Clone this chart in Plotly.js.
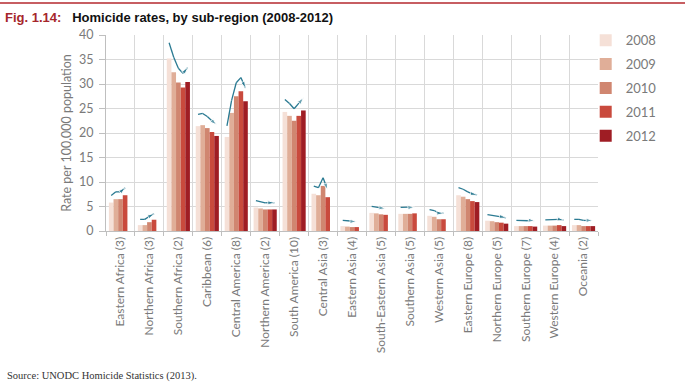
<!DOCTYPE html>
<html>
<head>
<meta charset="utf-8">
<script src="https://cdn.plot.ly/plotly-3.0.1.min.js"></script>
<style>html,body{margin:0;padding:0;background:#fff;}#chart{width:685px;height:391px;}</style>
</head>
<body>
<div id="chart"></div>
<script>
const categories = ["Eastern Africa (3)", "Northern Africa (3)", "Southern Africa (2)", "Caribbean (6)", "Central America (8)", "Northern America (2)", "South America (10)", "Central Asia (3)", "Eastern Asia (4)", "South-Eastern Asia (5)", "Southern Asia (5)", "Western Asia (5)", "Eastern Europe (8)", "Northern Europe (5)", "Southern Europe (7)", "Western Europe (4)", "Oceania (2)"];
const years = ["2008", "2009", "2010", "2011", "2012"];
const y2008 = [5.8, 1.2, 35.2, 21.4, 19.2, 4.8, 24.3, 7.6, 1.0, 3.7, 3.5, 3.1, 7.3, 2.1, 1.0, 1.1, 1.2];
const y2009 = [6.5, 1.2, 32.4, 21.6, 24.1, 4.6, 23.5, 7.3, 0.9, 3.6, 3.5, 2.9, 7.0, 2.0, 1.0, 1.1, 1.2];
const y2010 = [6.5, 1.8, 30.3, 21.0, 27.5, 4.4, 22.5, 9.2, 0.8, 3.4, 3.5, 2.4, 6.5, 1.8, 1.0, 1.1, 1.0];
const y2011 = [7.3, 2.3, 29.3, 20.2, 28.5, 4.4, 23.5, 6.9, 0.8, 3.3, 3.6, 2.4, 6.1, 1.7, 1.0, 1.2, 1.0];
const y2012 = [null, null, 30.4, 19.4, 26.5, 4.4, 24.6, null, null, null, null, null, 5.9, 1.5, 0.9, 1.0, 1.0];
const series = [y2008, y2009, y2010, y2011, y2012];
const colors = ["#f5e0d7", "#e0ae98", "#d08670", "#c94a3d", "#9f1d24"];

const traces = series.map((vals, j) => ({
  type: "bar", name: years[j], x: categories, y: vals,
  marker: {color: colors[j]}, legendgroup: "g" + j, hoverinfo: "skip"
}));

// trend arrows drawn above each group, following the bar values
const groupW = 0.8, n = years.length, bw = groupW / n;
const ax = [], ay = [], asz = [];
categories.forEach((c, i) => {
  const pts = [];
  series.forEach((vals, j) => {
    if (vals[i] !== null) pts.push([i - groupW / 2 + bw * (j + 0.5), vals[i] + 1.1 + 0.06 * vals[i]]);
  });
  pts.forEach((p, k) => { ax.push(p[0]); ay.push(p[1]); asz.push(k === pts.length - 1 ? 7 : 0); });
  ax.push(null); ay.push(null); asz.push(0);
});
traces.push({
  type: "scatter", mode: "lines+markers", x: ax, y: ay, xaxis: "x2",
  line: {color: "#2a7a92", width: 1.3}, connectgaps: false,
  marker: {symbol: "arrow", size: asz, angleref: "previous", color: "#2a7a92"},
  showlegend: false, hoverinfo: "skip"
});

const gray = "#7a7a7a";
const layout = {
  width: 685, height: 391,
  margin: {l: 106, r: 87, t: 35, b: 160},
  paper_bgcolor: "#fff", plot_bgcolor: "#fff",
  font: {family: "Lato, 'Open Sans', sans-serif", color: gray, size: 12},
  title: {
    text: "<span style='color:#a6262b'>Fig. 1.14:</span>&nbsp;&nbsp; Homicide rates, by sub-region (2008-2012)",
    font: {family: "'Liberation Sans', Arial, sans-serif", size: 13, color: "#111", weight: "bold"},
    x: 5 / 685, xref: "container", xanchor: "left", y: 1 - 17 / 391, yref: "container", yanchor: "middle"
  },
  barmode: "group", bargap: 0.2, bargroupgap: 0,
  xaxis: {
    type: "category", tickson: "boundaries", ticks: "outside", ticklen: 4, tickcolor: "#bfbfbf",
    showgrid: true, gridcolor: "#d9d9d9", gridwidth: 1,
    showline: true, linecolor: "#bfbfbf", tickangle: -90,
    tickfont: {size: 12, color: gray}, range: [-0.5, 16.5]
  },
  xaxis2: {overlaying: "x", range: [-0.5, 16.5], visible: false, fixedrange: true},
  yaxis: {
    range: [0, 40], dtick: 5, showgrid: true, gridcolor: "#d9d9d9", gridwidth: 1,
    ticks: "outside", ticklen: 6, tickcolor: "#bfbfbf", showline: true, linecolor: "#bfbfbf",
    zeroline: false, tickfont: {size: 12.5, color: gray}, ticklabelstandoff: 3,
    title: {text: "Rate per 100,000 population", font: {size: 12.5, color: gray}, standoff: 4}
  },
  legend: {
    x: 0.975, xanchor: "left", y: 1.05, yanchor: "top",
    font: {size: 13, color: gray}, traceorder: "grouped", tracegroupgap: 4,
    itemwidth: 30, bgcolor: "rgba(0,0,0,0)"
  },
  shapes: [{type: "line", xref: "paper", yref: "paper", x0: -106 / 492, x1: 579 / 492, y0: 228 / 196, y1: 228 / 196,
    line: {color: "#b5282e", width: 1.5}}],
  annotations: [{
    text: "Source: UNODC Homicide Statistics (2013).", xref: "paper", yref: "paper",
    x: -101 / 492, y: -145 / 196, xanchor: "left", yanchor: "middle", showarrow: false,
    font: {family: "'Liberation Serif', 'DejaVu Serif', serif", size: 10.5, color: "#333"}
  }]
};
Plotly.newPlot("chart", traces, layout, {displayModeBar: false, staticPlot: true});
</script>
</body>
</html>
